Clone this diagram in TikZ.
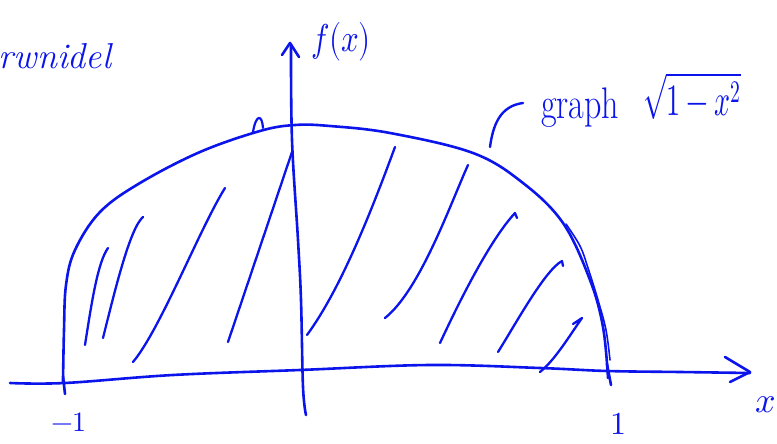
\documentclass[tikz,border=0pt]{standalone}
\usepackage{unicode-math}
\begin{document}
\begin{tikzpicture}[x=1pt,y=-1pt,
  ink/.style={draw=inkblue,line width=2.6pt,line cap=round,line join=round},
  hatch/.style={ink,line width=2.3pt},
  lbl/.style={text=inkblue,inner sep=0pt}]
\definecolor{inkblue}{RGB}{10,20,235}
\useasboundingbox (0,0) rectangle (777,444);
% x-axis
\draw[ink] plot[smooth,tension=0.6] coordinates {(10,383) (65,383) (173,375) (300,370) (430,365) (540,368) (607,371) (680,372) (750,373)};
\draw[ink] (725,357) -- (750,372) -- (730,382);
% y-axis
\draw[ink] plot[smooth,tension=0.6] coordinates {(291,45) (292,140) (298,240) (301,300) (303,387) (306,415)};
\draw[ink] (282,55) -- (290,43) -- (299,57);
% ticks
\draw[ink] (63,376) -- (65,394);
\draw[ink] (607,364) -- (611,385);
% curve
\draw[ink] plot[smooth,tension=0.6] coordinates {(63,382) (64,330) (66,285) (75,250) (100,212) (140,183) (200,152) (260,131) (295,125) (330,126) (390,133) (473,153) (523,183) (563,223) (590,280) (603,327) (608,378)};
\draw[ink,line width=1.6pt] plot[smooth,tension=0.6] coordinates {(566,224) (580,246) (588,268) (598,300) (606,330) (610,360)};
% small mark near top
\draw[ink,line width=2.2pt] (253,132) .. controls (256,114) and (262,114) .. (263,128);
% hatching
\draw[hatch] (85,345) .. controls (92,300) and (98,262) .. (108,248);
\draw[hatch] (103,338) .. controls (115,290) and (130,228) .. (143,217);
\draw[hatch] (133,362) .. controls (160,330) and (200,228) .. (225,188);
\draw[hatch] (228,342) -- (292,152);
\draw[hatch] (307,335) .. controls (340,290) and (370,215) .. (395,147);
\draw[hatch] (385,318) .. controls (420,290) and (450,205) .. (468,165);
\draw[hatch] (440,343) .. controls (460,300) and (490,240) .. (515,213) -- (517,218);
\draw[hatch] (498,352) .. controls (515,325) and (545,270) .. (562,261) -- (563,266);
\draw[hatch] (540,372) .. controls (555,360) and (570,335) .. (582,318) -- (573,324);
% leader to label
\draw[ink,line width=2.4pt] (490,147) .. controls (493,125) and (500,106) .. (523,103);
% labels
\node[lbl,font=\fontsize{31}{31}\selectfont,yscale=1.25,transform shape] (fx) at (341,42) {$f(x)$};
\node[lbl,font=\fontsize{34}{34}\selectfont,yscale=1.3,transform shape] (gr) at (580,108) {graph};
\node[lbl,font=\fontsize{28}{28}\selectfont,yscale=1.6,transform shape] (sq) at (692,96) {$\sqrt{1-x^2}$};
\node[lbl,font=\fontsize{28}{28}\selectfont] (m1) at (69,422) {$-1$};
\node[lbl,font=\fontsize{32}{32}\selectfont] (p1) at (618,424) {$1$};
\node[lbl,font=\fontsize{36}{36}\selectfont] (xl) at (766,405) {$x$};
\node[lbl,font=\fontsize{36}{36}\selectfont\itshape] (tl) at (55,56) {rwnidel};
\end{tikzpicture}
\end{document}
